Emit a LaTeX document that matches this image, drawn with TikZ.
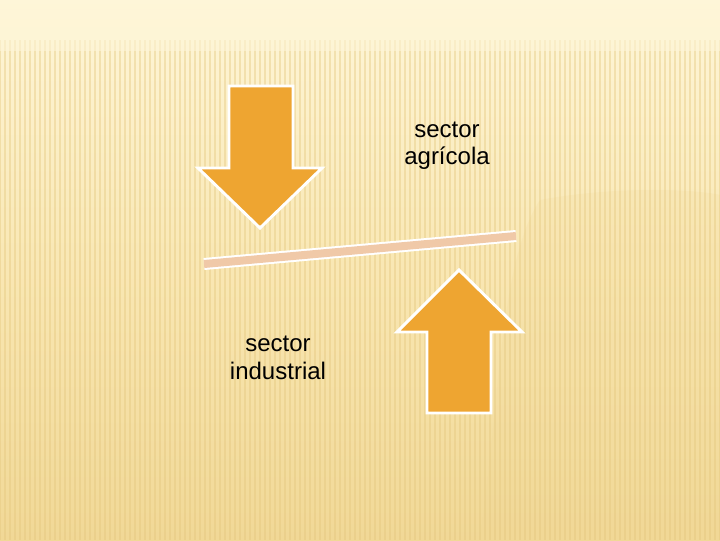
\documentclass[tikz,border=0pt]{standalone}
\usepackage{fontspec}
\setmainfont{Liberation Sans}
\definecolor{bgtop}{HTML}{FEF6D8}
\definecolor{bgmid}{HTML}{F9E7B3}
\definecolor{bgbot}{HTML}{F1D896}
\definecolor{arrowfill}{HTML}{EEA531}
\definecolor{barfill}{HTML}{F0C9A8}
\definecolor{stripe}{HTML}{E3C67C}
\tikzset{
  bigarrow/.style={fill=arrowfill, draw=white, line width=2.2pt, line join=miter},
  label/.style={align=center, font=\fontsize{18}{20.5}\selectfont, text=black}
}
\begin{document}
\begin{tikzpicture}[x=0.75pt,y=-0.75pt]
\useasboundingbox (0,0) rectangle (720,540);
% background
\shade[top color=bgtop, bottom color=bgbot, middle color=bgmid] (0,0) rectangle (720,540);
\fill[bgbot, opacity=0.2] (540,200) .. controls (620,185) and (700,190) .. (720,195) -- (720,540) -- (480,540) .. controls (500,400) and (500,260) .. (540,200) -- cycle;
\foreach \i in {0,5,...,720} {
  \draw[stripe, opacity=0.4, line width=0.8pt] (\i,40) -- (\i,540);
}
\shade[top color=bgtop, bottom color=bgtop, middle color=bgtop, opacity=0.6] (0,0) rectangle (720,50);
% down arrow
\draw[bigarrow] (229,86) -- (293,86) -- (293,168) -- (322,168) -- (260,228) -- (198,168) -- (229,168) -- cycle;
% up arrow
\draw[bigarrow] (427,413) -- (491,413) -- (491,332) -- (522,332) -- (459,270) -- (397,332) -- (427,332) -- cycle;
% bar
\coordinate (barL) at (204,264);
\coordinate (barR) at (516,236);
\draw[white, line width=9pt] (barL) -- (barR);
\draw[barfill, line width=6pt] (barL) -- (barR);
% labels
\node[label] (agri) at (447,146) {sector\\agrícola};
\node[label] (indu) at (278,358) {sector\\industrial};
\end{tikzpicture}
\end{document}
